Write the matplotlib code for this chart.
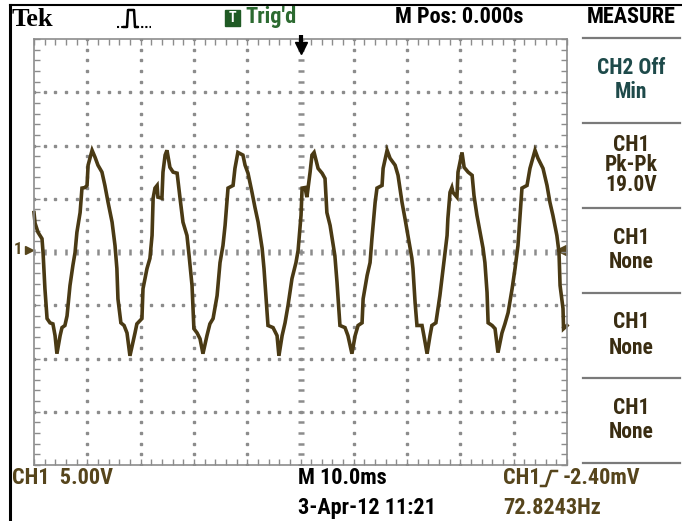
import numpy as np
import matplotlib
matplotlib.use('Agg')
import matplotlib.pyplot as plt
from matplotlib import font_manager
from matplotlib.patches import Rectangle

# trace: time (ms) and voltage (V), 10 ms/div, 5 V/div
trace_t = [0.0, 0.2, 0.75, 1.5, 1.7, 2.05, 2.45, 3.0, 3.55, 3.95, 4.3, 4.9, 5.25, 5.8, 6.2,
           6.75, 7.3, 7.7, 8.05, 8.65, 9.0, 9.55, 9.95, 10.15, 10.9, 11.45, 12.0, 12.75, 13.3,
           13.9, 14.65, 15.2, 15.55, 15.75, 16.3, 16.9, 17.45, 18.0,
           18.95, 19.3, 20.25, 20.45, 21.2, 21.75, 22.15, 22.35, 22.7, 23.1, 23.25, 24.0, 24.2,
           24.6, 24.95, 25.5, 26.1, 26.85, 27.4, 27.95, 28.7, 29.1, 29.65, 30.0, 30.6, 31.15,
           31.7, 32.45, 33.0, 33.6, 34.35, 34.9, 35.45, 35.85, 36.4, 37.35, 37.7, 38.25,
           39.2, 39.6, 40.15, 40.9, 41.45, 42.05, 42.8, 43.15, 43.55, 43.9, 44.85, 45.6, 45.95,
           46.55, 47.1, 47.65, 48.4, 49.15, 49.55, 50.1, 50.3, 50.85, 51.2, 51.8, 52.15, 52.55,
           53.3, 54.05, 54.6, 54.95, 55.55, 56.45, 56.85, 57.4, 58.35,
           58.9, 59.65, 60.25, 60.8, 61.55, 61.75, 62.5, 63.05, 63.4, 64.0, 64.35, 65.3, 65.5,
           66.25, 66.8, 67.75, 68.3, 69.05, 69.6, 70.15, 70.9, 71.1, 71.5, 71.85, 72.8, 73.15,
           73.75, 74.3, 74.65, 75.4, 76.15, 76.75, 77.5, 77.65, 78.05, 78.4,
           78.6, 79.35, 79.55, 80.3, 80.7, 81.45, 82.2, 82.55, 83.1, 83.7, 84.25, 84.6, 85.0,
           85.2, 85.95, 86.5, 87.05, 87.8, 88.35, 88.95, 89.7, 90.25, 90.8, 91.2, 91.55, 92.5,
           93.05, 94.0, 94.55, 95.5, 96.25, 96.8, 97.35, 98.1, 98.5, 98.7, 99.25, 99.35, 100.0]
trace_v = [3.7, 2.7, 1.85, 1.25, -0.05, -3.45, -6.25, -6.65, -6.75, -7.85, -9.55, -7.85, -7.1,
           -6.9, -6.0, -3.15, -1.25, -0.05, 1.85, 3.7, 6.0, 6.05, 6.25, 8.15, 9.55, 8.9, 8.15,
           7.5, 6.25, 4.65, 2.8, 0.6, -1.55, -4.4, -6.65, -6.9, -7.6, -9.75,
           -7.6, -6.75, -6.25, -3.45, -1.55, -0.6, 1.55, 5.05, 6.0, 6.25, 5.15, 5.05, 7.5,
           9.1, 9.55, 7.95, 7.5, 7.4, 5.05, 2.8, 1.55, -0.35, -3.15, -7.2, -7.6, -8.15,
           -9.55, -7.85, -6.75, -6.25, -4.1, -1.0, 0.6, 2.5, 6.0, 6.25, 7.85, 9.35,
           9.1, 8.15, 7.4, 5.6, 4.2, 2.8, 0.35, -1.55, -4.4, -6.9, -7.1, -7.85, -9.75,
           -7.85, -6.65, -5.05, -2.5, -1.0, 0.15, 3.45, 6.0, 6.05, 5.15, 7.5, 9.1, 9.35,
           7.85, 7.4, 6.9, 3.7, 2.5, -0.35, -2.85, -6.9, -7.1,
           -7.85, -9.55, -7.85, -6.9, -6.65, -4.4, -2.2, -1.0, 1.25, 4.65, 6.0, 6.25, 7.85,
           9.55, 8.8, 8.15, 7.2, 4.65, 3.15, 1.55, -0.6, -1.55, -4.75, -6.9, -6.9, -7.85,
           -9.55, -7.85, -6.9, -6.65, -4.1, -1.55, 1.55, 3.15, 5.6, 6.05,
           5.6, 5.15, 7.5, 9.35, 7.95, 7.5, 7.2, 5.3, 3.45, 1.85, 0.35, -1.0, -3.8,
           -6.65, -6.9, -7.2, -9.45, -7.6, -6.75, -5.7, -3.45, -1.55, 0.6, 3.45, 6.0, 6.25,
           7.85, 9.55, 8.8, 7.85, 6.25, 4.65, 3.45, 1.55, -0.05, -3.15, -5.3, -7.2, -6.9]

measure_boxes = [['CH2 Off', 'Min'], ['CH1', 'Pk-Pk', '19.0V'], ['CH1', 'None'],
                 ['CH1', 'None'], ['CH1', 'None']]

# narrow sans to imitate the scope font
names = {f.name for f in font_manager.fontManager.ttflist}
SCOPE = 'DejaVu Sans'
for cand in ['Liberation Sans Narrow', 'Roboto Condensed', 'Arial Narrow', 'PT Sans Narrow',
             'Archivo Narrow', 'Open Sans Condensed', 'Encode Sans Condensed', 'Asap Condensed']:
    if cand in names:
        SCOPE = cand
        break
SERIF = 'Liberation Serif' if 'Liberation Serif' in names else 'DejaVu Serif'

TRACE = '#4a3a14'
BROWN = '#56451c'
GRID = '#8c8c8c'
W, H = 682, 521

fig = plt.figure(figsize=(W / 100, H / 100), dpi=100)
fig.patch.set_facecolor('white')

# overlay in pixel coordinates for the screen furniture
ov = fig.add_axes([0, 0, 1, 1])
ov.set_xlim(0, W)
ov.set_ylim(H, 0)
ov.axis('off')

def txt(x, y, s, size=16, color='black', ha='left', weight='bold', family=SCOPE):
    ov.text(x, y, s, fontsize=size, color=color, ha=ha, va='center',
            fontweight=weight, family=family)

# outer frame
ov.plot([10, 10], [5, H], color='black', lw=2.2)
ov.plot([10, W], [5, 5], color='black', lw=1.5)

# header
txt(12, 19, 'Tek', size=19, family=SERIF)
ov.plot([117, 124], [27, 27], color='black', lw=1.5, ls=(0, (1, 1)))
ov.plot([124, 127, 128, 134, 135, 137], [27, 27, 10, 10, 27, 27], color='black', lw=1.8)
ov.plot([137, 151], [27, 27], color='black', lw=1.5, ls=(0, (1, 1)))
ov.add_patch(Rectangle((225, 10), 15, 16, color='#1f5a24'))
txt(232.5, 18, 'T', size=10, color='white', ha='center')
txt(245, 17, "Trig'd", color='#2c6a30')
txt(395, 17, 'M Pos: 0.000s')
txt(631, 17, 'MEASURE', ha='center')

# measure panel
for ysep in [38, 123, 208, 293, 378, 463]:
    ov.plot([583, 680], [ysep, ysep], color='#7a7a7a', lw=1.6)
for i, lines in enumerate(measure_boxes):
    top = 38 + 85 * i
    col = '#1e4a4a' if i == 0 else '#3a2d12'
    n = len(lines)
    step = 20 if n == 3 else 25
    y0 = top + 42 - step * (n - 1) / 2
    for j, s in enumerate(lines):
        txt(631, y0 + j * step, s, size=15.5, color=col, ha='center')

# footer
txt(12, 478, 'CH1  5.00V', color=BROWN)
txt(298, 478, 'M 10.0ms')
txt(298, 508, '3-Apr-12 11:21')
txt(503, 478, 'CH1', color=BROWN)
ov.plot([541, 546, 551, 557], [486, 486, 471, 471], color=BROWN, lw=1.8)
txt(563, 478, '-2.40mV', color=BROWN)
txt(503, 508, '72.8243Hz', color=BROWN)

# markers
txt(14, 250, '1', size=12, color=BROWN)
ov.plot([29], [250], marker='>', ms=6, color=BROWN)
ov.plot([561], [250], marker='<', ms=7, color=BROWN)

# graticule
ax = fig.add_axes([34 / W, (H - 465) / H, 533 / W, 426 / H])
ax.set_facecolor('none')
ax.set_xlim(0, 100)
ax.set_ylim(-20, 20)
for s in ax.spines.values():
    s.set_color(GRID)
    s.set_linewidth(1.2)
ax.set_xticks(np.arange(0, 101, 2))
ax.set_yticks(np.arange(-20, 21, 1))
ax.tick_params(direction='in', length=4, width=1, color=GRID,
               top=True, right=True, labelbottom=False, labelleft=False)

ydots = np.arange(-20, 21, 1)
xdots = np.arange(0, 101, 2)
for xg in [10, 20, 30, 40, 60, 70, 80, 90]:
    ax.plot([xg] * len(ydots), ydots, ls='none', marker='s', ms=1.7, color=GRID)
for yg in [-15, -10, -5, 5, 10, 15]:
    ax.plot(xdots, [yg] * len(xdots), ls='none', marker='s', ms=1.7, color=GRID)
ax.plot([50] * len(ydots), ydots, ls='none', marker='_', ms=5, mew=1.8, color=GRID)
ax.plot(xdots, [0] * len(xdots), ls='none', marker='|', ms=5, mew=1.8, color=GRID)

ax.plot(trace_t, trace_v, color=TRACE, lw=2.6, solid_joinstyle='miter', clip_on=False)

# trigger position arrow, drawn on top of the graticule edge
ov2 = fig.add_axes([0, 0, 1, 1], zorder=5)
ov2.set_xlim(0, W)
ov2.set_ylim(H, 0)
ov2.axis('off')
ov2.plot([301, 301], [35, 46], color='black', lw=3, solid_capstyle='butt')
ov2.plot([301], [48], marker='v', ms=9, color='black')

fig.savefig('out.png', dpi=100)
